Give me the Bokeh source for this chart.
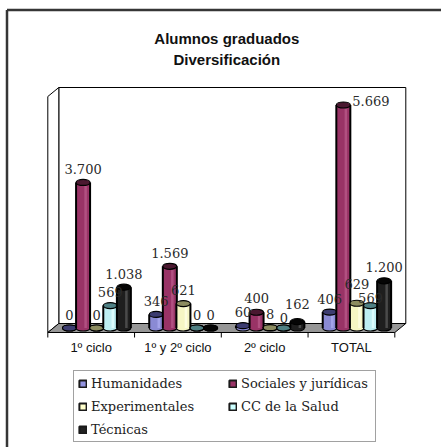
from bokeh.plotting import figure
from bokeh.models import Range1d, ColumnDataSource, Legend, LegendItem
from bokeh.core.properties import value
from bokeh.embed import file_html
from bokeh.resources import INLINE

# ---- data ----
categories = ["1º ciclo", "1º y 2º ciclo", "2º ciclo", "TOTAL"]
series_names = ["Humanidades", "Sociales y jurídicas", "Experimentales", "CC de la Salud", "Técnicas"]
humanidades = [0, 346, 60, 406]
sociales = [3700, 1569, 400, 5669]
experimentales = [0, 621, 8, 629]
cc_salud = [569, 0, 0, 569]
tecnicas = [1038, 0, 162, 1200]
axis_max = 6000
title_lines = ["Alumnos graduados", "Diversificación"]

series_values = [humanidades, sociales, experimentales, cc_salud, tecnicas]

# ---- style ----
body_colors = ["#8a8ad4", "#993366", "#f6f6c4", "#bdeef2", "#1e1e1e"]
top_colors = ["#3c3c70", "#4a1830", "#8c8c60", "#4f8084", "#050505"]
stripe_colors = ["#a9a9ee", "#b75888", "#ffffe6", "#e2ffff", "#555555"]
legend_colors = ["#9494e0", "#993366", "#ffffcc", "#ccffff", "#222222"]

W, H = 441, 447
PX_X = 86.75            # pixels per category
PX_Y = 236 / axis_max   # pixels per value unit
X0_PX, Y0_PX = 47.3, 332  # page position of the floor's front-left corner
DX = 11 / PX_X          # depth offset (x units)
DY = 9 / PX_Y           # depth offset (y units)
BAR_W = 14 / PX_X
STEP = 13.6 / PX_X
ELL_H = 6 / PX_Y
LABEL_GAP = 13.5        # px between bar top and label baseline
LINE_PX = 14            # label line height for collision checks
DIGIT_PX = 7.6          # approx. label character width

x0, x1 = -X0_PX / PX_X, (W - X0_PX) / PX_X
y0, y1 = -(H - Y0_PX) / PX_Y, Y0_PX / PX_Y

p = figure(width=W, height=H, title=None,
           x_range=Range1d(x0, x1), y_range=Range1d(y0, y1),
           output_backend="svg", toolbar_location=None,
           min_border=0, x_axis_location=None, y_axis_location=None,
           outline_line_color=None,
           background_fill_color="white", border_fill_color="white")
p.xgrid.visible = False
p.ygrid.visible = False

n = len(categories)

# chart border (left and top edges visible in the window)
bx = x0 + 6.5 / PX_X
by = y1 - 9.5 / PX_Y
p.segment(x0=[bx, bx], y0=[by, by], x1=[bx, x1], y1=[y0, by],
          line_color="#363636", line_width=2.5)

# title
p.text(x=[(n + DX) / 2] * 2, y=[axis_max + DY] * 2, text=title_lines,
       y_offset=[-49, -28.5], text_align="center", text_baseline="alphabetic",
       text_font=value("Liberation Sans"), text_font_size="15px",
       text_font_style="bold", text_color="#111111")

# walls and floor
p.quad(left=[DX], right=[n + DX], bottom=[DY], top=[axis_max + DY],
       fill_color="white", line_color="#000000", line_width=1)
p.patch(x=[0, 0, DX, DX], y=[0, axis_max, axis_max + DY, DY],
        fill_color="white", line_color="#000000", line_width=1)
p.patch(x=[0, n, n + DX, DX], y=[0, 0, DY, DY],
        fill_color="#969696", line_color="#000000", line_width=1)

# category ticks and labels
p.segment(x0=list(range(n + 1)), y0=[0] * (n + 1), x1=list(range(n + 1)),
          y1=[-5 / PX_Y] * (n + 1), line_color="#000000", line_width=1)
p.text(x=[i + 0.5 for i in range(n)], y=[0] * n, text=categories, y_offset=15,
       text_align="center", text_baseline="alphabetic",
       text_font=value("Liberation Sans"), text_font_size="13px", text_color="#111111")

# bars (cylinders)
base = DY / 2
labels = []  # per label: dict
for j, vals in enumerate(series_values):
    xs = [i + 0.5 + DX / 2 + (j - 2) * STEP for i in range(n)]
    tops = [base + v for v in vals]
    src = ColumnDataSource(dict(x=xs, top=tops, bottom=[base] * n,
                                xl=[x - BAR_W / 2 for x in xs], xr=[x + BAR_W / 2 for x in xs],
                                xs_=[x + BAR_W * 0.18 for x in xs]))
    p.ellipse(x="x", y="bottom", width=BAR_W, height=ELL_H, source=src,
              fill_color=body_colors[j], line_color="#000000", line_width=1.2)
    p.vbar(x="x", width=BAR_W, bottom="bottom", top="top", source=src,
           fill_color=body_colors[j], line_color=None)
    p.vbar(x="xs_", width=BAR_W * 0.18, bottom="bottom", top="top", source=src,
           fill_color=stripe_colors[j], line_color=None, fill_alpha=0.8)
    p.segment(x0="xl", y0="bottom", x1="xl", y1="top", source=src,
              line_color="#000000", line_width=2)
    p.segment(x0="xr", y0="bottom", x1="xr", y1="top", source=src,
              line_color="#000000", line_width=2)
    p.ellipse(x="x", y="top", width=BAR_W, height=ELL_H, source=src,
              fill_color=top_colors[j], line_color="#000000", line_width=1.2)
    for i, (x, t, v) in enumerate(zip(xs, tops, vals)):
        txt = f"{v:,}".replace(",", ".")
        lab = dict(cat=i, ser=j, x=x, y=t, t=txt, v=v)
        # a label that would rise above the back wall goes to the right of the bar top
        if t + (LABEL_GAP + 6) / PX_Y > axis_max + DY:
            lab.update(xo=BAR_W / 2 * PX_X + 2, yo=-4, al="left", free=False)
        else:
            lab.update(xo=0, yo=-LABEL_GAP, al="center", free=True)
        labels.append(lab)

# simple collision avoidance between neighbouring labels of a category
for i in range(n):
    cat = sorted([l for l in labels if l["cat"] == i and l["free"]], key=lambda l: l["ser"])
    for a, b in zip(cat, cat[1:]):
        ya = -a["y"] * PX_Y + a["yo"]
        yb = -b["y"] * PX_Y + b["yo"]
        dx = abs(a["x"] - b["x"]) * PX_X
        half = (len(a["t"]) + len(b["t"])) * DIGIT_PX / 2
        if dx < half and abs(ya - yb) < LINE_PX:
            need = (LINE_PX - abs(ya - yb)) / 2
            up, down = (a, b) if (ya < yb or (ya == yb and a["v"] >= b["v"])) else (b, a)
            up["yo"] -= need
            down["yo"] += need

lsrc = ColumnDataSource(dict(x=[l["x"] for l in labels], y=[l["y"] for l in labels],
                             t=[l["t"] for l in labels], xo=[l["xo"] for l in labels],
                             yo=[l["yo"] for l in labels], al=[l["al"] for l in labels]))
p.text(x="x", y="y", text="t", x_offset="xo", y_offset="yo", text_align="al", source=lsrc,
       text_baseline="alphabetic", text_font=value("DejaVu Serif"), text_font_size="13px",
       text_color="#2a2a2a")

# legend (swatch renderers hold one off-canvas point so that their glyph is drawn)
items = []
for j, name in enumerate(series_names):
    r = p.quad(left=[x1 + 1], right=[x1 + 2], top=[y1 + 2], bottom=[y1 + 1],
               fill_color=legend_colors[j], line_color="#1a1a1a", line_width=2)
    items.append(LegendItem(label=name, renderers=[r]))
legend = Legend(items=items, location=(73, 5), orientation="horizontal", ncols=2,
                glyph_width=9, glyph_height=9, label_standoff=4, label_width=130,
                label_height=16, spacing=7, padding=4, margin=0,
                label_text_font="DejaVu Serif", label_text_font_size="13px",
                label_text_color="#222222", border_line_color="#444444", border_line_width=1,
                background_fill_color="white", background_fill_alpha=1)
p.add_layout(legend)

open("out.html", "w").write(file_html(p, INLINE))
